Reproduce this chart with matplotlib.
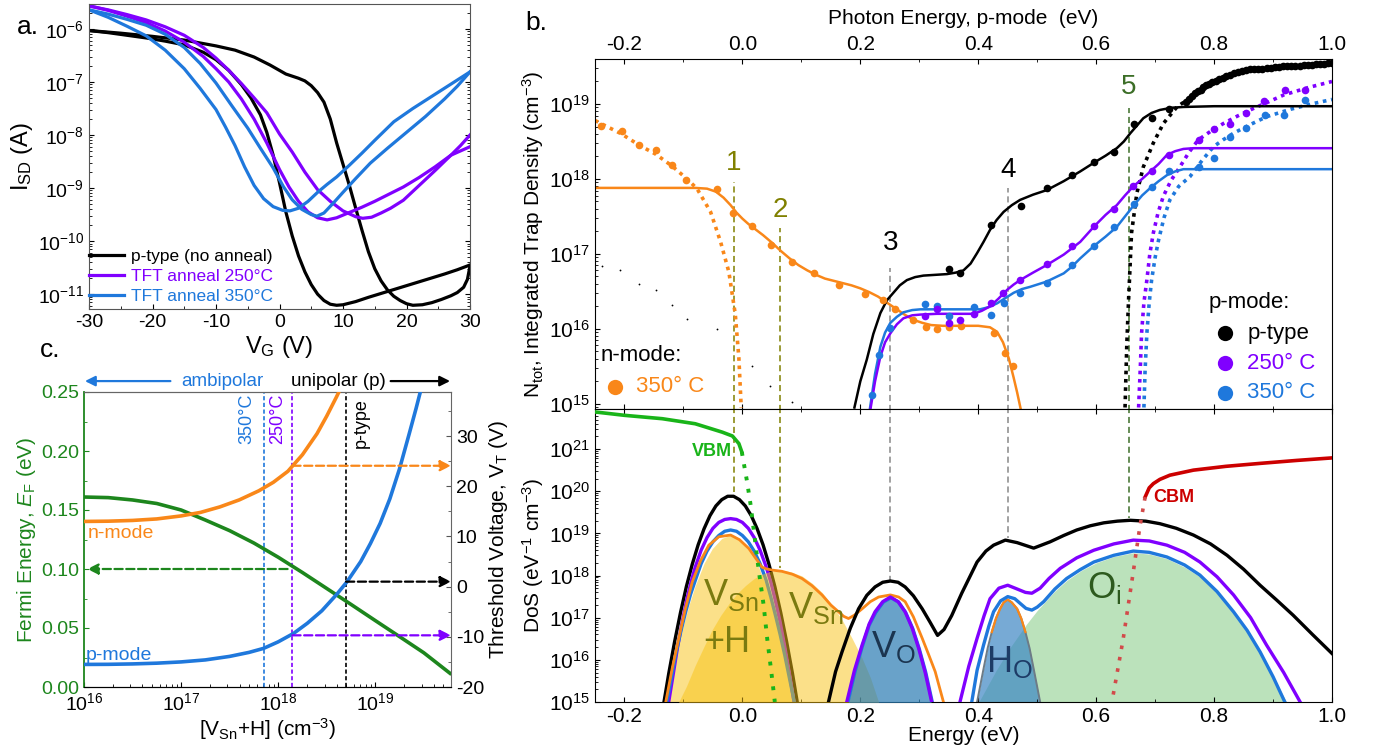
import numpy as np
import matplotlib
matplotlib.use("Agg")
import matplotlib.pyplot as plt
from matplotlib.ticker import MultipleLocator, LogLocator, NullFormatter, FormatStrFormatter

plt.rcParams["font.family"] = ["Liberation Sans", "DejaVu Sans"]
plt.rcParams["mathtext.fontset"] = "custom"
plt.rcParams["mathtext.rm"] = "Liberation Sans"
plt.rcParams["mathtext.it"] = "Liberation Sans:italic"
plt.rcParams["mathtext.bf"] = "Liberation Sans:bold"
plt.rcParams["mathtext.default"] = "regular"
plt.rcParams["axes.unicode_minus"] = False

BLACK = "black"
PURPLE = "#8000ff"
BLUE = "#1f78dc"
ORANGE = "#f98719"
GREEN_EF = "#1d861d"
VBM_GREEN = "#19b419"
CBM_RED = "#cc0000"
OLIVE = "#808000"
DKGREEN = "#3c6e27"

# ------------------------------------------------------------------
# a. transfer curves  (gate voltage, log10 I_SD)
# ------------------------------------------------------------------
vg_black_fwd = [-30, -27, -24, -21, -18, -15, -12, -10, -8, -6, -4.5, -3, -2, -1, 0, 1, 2, 3, 4, 5, 6, 7, 8, 9,
                10, 12, 14, 17, 20, 23, 26, 28, 30]
lg_black_fwd = [-6.03, -6.07, -6.12, -6.17, -6.23, -6.30, -6.44, -6.58, -6.78, -7.05, -7.30, -7.62, -7.95,
                -8.38, -8.9, -9.45, -9.9, -10.28, -10.58, -10.82, -11.0, -11.12, -11.19, -11.21, -11.2, -11.14,
                -11.06, -10.95, -10.84, -10.73, -10.62, -10.54, -10.45]
vg_black_rev = [-30, -25, -20, -15, -10, -7, -4, -1.5, 1, 3, 4, 5, 6, 7, 8, 9, 10, 11, 12, 13, 14, 15, 16, 17,
                18, 19, 20, 21, 22.5, 24, 25.5, 27, 28, 29, 29.6, 30]
lg_black_rev = [-6.03, -6.08, -6.14, -6.21, -6.32, -6.40, -6.53, -6.68, -6.85, -6.93, -6.98, -7.07, -7.2, -7.38,
                -7.7, -8.15, -8.55, -8.95, -9.38, -9.8, -10.2, -10.52, -10.75, -10.92, -11.04, -11.12, -11.18,
                -11.21, -11.2, -11.16, -11.1, -11.03, -10.97, -10.87, -10.72, -10.47]
vg_250_fwd = [-30, -27, -24, -21, -18, -15, -12, -10, -8, -6, -4, -2, 0, 1.5, 3, 4.5, 6, 7.5, 9, 11, 13, 15, 17,
              19.5, 22, 24.5, 27, 28.5, 30]
lg_250_fwd = [-5.56, -5.65, -5.76, -5.88, -6.04, -6.25, -6.52, -6.75, -7.0, -7.32, -7.7, -8.15, -8.65, -8.98,
              -9.25, -9.45, -9.56, -9.6, -9.56, -9.46, -9.36, -9.25, -9.13, -8.98, -8.8, -8.6, -8.38, -8.3, -8.22]
vg_250_rev = [-30, -27, -24, -21, -18, -15, -12, -10, -8, -6, -4, -2, 0, 2, 4, 6, 8, 10, 12, 13.1, 14.5, 16,
              17.5, 19.5, 22, 24.5, 27, 28.5, 30]
lg_250_rev = [-5.57, -5.64, -5.73, -5.83, -5.96, -6.12, -6.35, -6.55, -6.78, -7.03, -7.3, -7.58, -7.98, -8.32,
              -8.7, -9.03, -9.25, -9.43, -9.54, -9.57, -9.55, -9.47, -9.38, -9.23, -8.95, -8.67, -8.38, -8.2, -8.0]
vg_350_fwd = [-30, -27, -24, -21, -18, -15, -12.5, -10, -8.5, -7, -5.5, -4, -2.5, -1, 0.5, 1.65, 3, 4.5, 6, 7.5,
              9, 11, 13, 15, 18, 21, 24, 27, 30]
lg_350_fwd = [-5.64, -5.78, -5.95, -6.13, -6.4, -6.75, -7.12, -7.52, -7.85, -8.2, -8.6, -8.95, -9.2, -9.35,
              -9.42, -9.43, -9.38, -9.25, -9.08, -8.93, -8.79, -8.57, -8.34, -8.1, -7.75, -7.5, -7.27, -7.04, -6.81]
vg_350_rev = [-30, -27, -24, -21, -18, -15, -12.5, -10, -7.5, -5, -3, -1, 0.6, 2, 3.5, 5, 5.9, 7, 8.5, 10, 12,
              14.3, 17, 20, 23, 26, 28, 30]
lg_350_rev = [-5.64, -5.72, -5.82, -5.93, -6.1, -6.35, -6.65, -7.02, -7.45, -7.87, -8.25, -8.62, -8.97, -9.22,
              -9.4, -9.5, -9.53, -9.47, -9.28, -9.08, -8.82, -8.53, -8.25, -7.95, -7.65, -7.32, -7.08, -6.81]
legend_a = ["p-type (no anneal)", "TFT anneal 250°C", "TFT anneal 350°C"]

# ------------------------------------------------------------------
# c. Fermi energy / threshold voltage vs [VSn+H]  (log10 N)
# ------------------------------------------------------------------
lg_n_ef = [16, 16.25, 16.5, 16.75, 17, 17.25, 17.5, 17.75, 18, 18.25, 18.5, 18.75, 19, 19.25, 19.5, 19.77]
ef_ev = [0.161, 0.1605, 0.1585, 0.1555, 0.150, 0.1415, 0.1325, 0.122, 0.110, 0.097, 0.0835, 0.0700, 0.0563,
         0.0427, 0.029, 0.0116]
lg_n_vt_n = [16, 16.25, 16.5, 16.75, 17, 17.2, 17.4, 17.6, 17.8, 17.95, 18.1, 18.25, 18.4, 18.5, 18.6, 18.65]
vt_nmode = [13.0, 13.05, 13.2, 13.5, 14.1, 14.8, 15.9, 17.3, 19.1, 20.8, 23.0, 26.3, 30.5, 34.0, 37.8, 39.8]
lg_n_vt_p = [16, 16.25, 16.5, 16.75, 17, 17.25, 17.5, 17.7, 17.85, 18.0, 18.16, 18.3, 18.45, 18.6, 18.71,
             18.85, 18.95, 19.05, 19.15, 19.25, 19.35, 19.42, 19.48]
vt_pmode = [-15.5, -15.48, -15.4, -15.25, -15.0, -14.6, -13.9, -13.1, -12.3, -11.0, -9.3, -7.3, -4.8, -1.6, 1.0,
            5.0, 8.6, 12.6, 17.5, 23.5, 30.5, 35.5, 40.0]
n_350 = 7.2e17
n_250 = 1.4e18
n_ptype = 5.0e18
ef_250 = 0.100
vt_n_250 = 24.1
vt_p_250 = -9.7
vt_ptype = 1.0

# ------------------------------------------------------------------
# b. (top) integrated trap density  (energy eV, log10 N)
# ------------------------------------------------------------------
e_pts_n350 = [-0.239, -0.205, -0.175, -0.147, -0.119, -0.095, -0.043, -0.016, 0.016, 0.049, 0.084, 0.122, 0.164,
              0.208, 0.238, 0.258, 0.289, 0.311, 0.330, 0.350, 0.371, 0.426, 0.446, 0.459]
lg_pts_n350 = [18.71, 18.64, 18.45, 18.38, 18.18, 17.99, 17.86, 17.55, 17.37, 17.12, 16.89, 16.74, 16.58, 16.47,
               16.38, 16.27, 16.12, 16.02, 16.0, 16.02, 16.04, 15.94, 15.68, 15.51]
e_pts_ptype = [0.350, 0.369, 0.422, 0.472, 0.516, 0.559, 0.597, 0.631, 0.665, 0.695, 0.724]
lg_pts_ptype = [16.80, 16.74, 17.39, 17.64, 17.88, 18.05, 18.22, 18.36, 18.73, 18.81, 18.93]
e_pts_ptype_hi = [0.752, 0.757, 0.762, 0.767, 0.772, 0.777, 0.782, 0.787, 0.792, 0.797, 0.803, 0.809, 0.815,
                  0.821, 0.827, 0.833, 0.840, 0.847, 0.854, 0.861, 0.868, 0.875, 0.882, 0.889, 0.896, 0.903,
                  0.910, 0.917, 0.924, 0.931, 0.938, 0.945, 0.952, 0.959, 0.966, 0.973, 0.980, 0.987, 0.994, 1.0]
lg_pts_ptype_hi = [19.03, 19.07, 19.11, 19.14, 19.17, 19.19, 19.22, 19.25, 19.27, 19.29, 19.31, 19.33, 19.35,
                   19.37, 19.39, 19.41, 19.43, 19.44, 19.45, 19.46, 19.46, 19.47, 19.47, 19.48, 19.48, 19.49,
                   19.49, 19.50, 19.50, 19.50, 19.51, 19.51, 19.52, 19.52, 19.52, 19.53, 19.53, 19.53, 19.54, 19.54]
e_pts_p250 = [0.310, 0.330, 0.350, 0.369, 0.392, 0.422, 0.442, 0.471, 0.516, 0.559, 0.597, 0.631, 0.663, 0.694,
              0.724, 0.775, 0.800, 0.827, 0.854, 0.884, 0.920, 0.954]
lg_pts_p250 = [16.17, 16.26, 16.08, 16.12, 16.20, 16.34, 16.48, 16.65, 16.86, 17.11, 17.37, 17.60, 17.91, 18.11,
               18.32, 18.52, 18.66, 18.73, 18.88, 19.04, 19.18, 19.19]
e_pts_p350 = [0.219, 0.232, 0.251, 0.310, 0.330, 0.350, 0.392, 0.421, 0.443, 0.471, 0.516, 0.559, 0.597, 0.631,
              0.665, 0.695, 0.724, 0.775, 0.800, 0.827, 0.854, 0.886, 0.918, 0.954]
lg_pts_p350 = [15.12, 15.65, 16.01, 16.33, 16.31, 16.17, 16.29, 16.19, 16.35, 16.48, 16.61, 16.85, 17.11, 17.36,
               17.66, 17.89, 18.10, 18.16, 18.28, 18.56, 18.68, 18.85, 18.85, 19.05]
e_pts_small = [-0.238, -0.207, -0.176, -0.146, -0.119, -0.094, -0.043, 0.016, 0.047, 0.084]
lg_pts_small = [16.84, 16.79, 16.60, 16.52, 16.32, 16.13, 16.0, 15.51, 15.24, 15.02]

e_fit_n350 = [-0.25, -0.15, -0.08, -0.06, -0.045, -0.032, -0.02, -0.01, 0.0, 0.01, 0.02, 0.035, 0.05, 0.065,
              0.08, 0.095, 0.11, 0.125, 0.14, 0.155, 0.17, 0.185, 0.20, 0.215, 0.23, 0.245, 0.26, 0.275, 0.29,
              0.305, 0.32, 0.34, 0.37, 0.40, 0.42, 0.432, 0.442, 0.452, 0.46, 0.466, 0.472]
lg_fit_n350 = [17.88, 17.88, 17.88, 17.87, 17.83, 17.75, 17.65, 17.55, 17.47, 17.40, 17.34, 17.25, 17.15, 17.04,
               16.94, 16.85, 16.78, 16.72, 16.67, 16.64, 16.61, 16.58, 16.54, 16.49, 16.43, 16.35, 16.27, 16.19,
               16.12, 16.08, 16.05, 16.04, 16.04, 16.04, 16.02, 15.96, 15.82, 15.6, 15.35, 15.15, 14.93]
e_dot_n350 = [-0.25, -0.23, -0.205, -0.175, -0.147, -0.119, -0.094, -0.077, -0.054, -0.037, -0.023, -0.012,
              -0.006, -0.002]
lg_dot_n350 = [18.78, 18.70, 18.60, 18.45, 18.33, 18.17, 18.0, 17.87, 17.56, 17.16, 16.76, 16.19, 15.61, 14.95]
e_fit_ptype = [0.19, 0.20, 0.211, 0.222, 0.234, 0.245, 0.256, 0.267, 0.279, 0.293, 0.307, 0.327, 0.347, 0.362,
               0.375, 0.387, 0.398, 0.409, 0.420, 0.431, 0.443, 0.457, 0.471, 0.493, 0.516, 0.545, 0.573, 0.597,
               0.616, 0.635, 0.647, 0.658, 0.669, 0.680, 0.694, 0.708, 0.728, 0.748, 0.80, 0.9, 1.0]
lg_fit_ptype = [14.95, 15.3, 15.59, 15.93, 16.21, 16.38, 16.48, 16.58, 16.65, 16.69, 16.71, 16.72, 16.73, 16.75,
                16.78, 16.87, 17.01, 17.16, 17.32, 17.45, 17.56, 17.65, 17.72, 17.79, 17.85, 17.97, 18.10, 18.22,
                18.31, 18.41, 18.50, 18.61, 18.71, 18.81, 18.88, 18.92, 18.95, 18.96, 18.97, 18.97, 18.97]
e_dot_ptype = [0.649, 0.652, 0.655, 0.660, 0.669, 0.680, 0.697, 0.714, 0.737, 0.759]
lg_dot_ptype = [14.95, 15.8, 16.39, 17.28, 17.81, 18.16, 18.48, 18.74, 18.96, 19.08]
e_fit_p250 = [0.217, 0.225, 0.234, 0.242, 0.251, 0.262, 0.273, 0.288, 0.302, 0.33, 0.36, 0.392, 0.406, 0.420,
              0.434, 0.449, 0.46, 0.471, 0.493, 0.516, 0.545, 0.573, 0.597, 0.616, 0.635, 0.649, 0.663, 0.678,
              0.692, 0.706, 0.720, 0.734, 0.748, 0.765, 0.782, 0.85, 1.0]
lg_fit_p250 = [14.92, 15.3, 15.63, 15.82, 15.94, 16.06, 16.14, 16.18, 16.19, 16.2, 16.2, 16.2, 16.24, 16.30,
               16.40, 16.52, 16.59, 16.65, 16.75, 16.85, 16.99, 17.16, 17.37, 17.52, 17.65, 17.78, 17.90, 18.0,
               18.10, 18.2, 18.32, 18.37, 18.40, 18.41, 18.41, 18.41, 18.41]
e_fit_p350 = [0.216, 0.225, 0.234, 0.242, 0.251, 0.262, 0.273, 0.288, 0.302, 0.35, 0.403, 0.418, 0.432, 0.446,
              0.460, 0.474, 0.488, 0.516, 0.545, 0.559, 0.573, 0.597, 0.616, 0.635, 0.650, 0.665, 0.678, 0.692,
              0.706, 0.720, 0.734, 0.748, 0.78, 0.85, 1.0]
lg_fit_p350 = [14.92, 15.4, 15.76, 15.95, 16.08, 16.16, 16.22, 16.25, 16.26, 16.26, 16.26, 16.29, 16.34, 16.41,
               16.48, 16.53, 16.56, 16.63, 16.74, 16.83, 16.94, 17.11, 17.23, 17.36, 17.51, 17.66, 17.78, 17.88,
               17.97, 18.05, 18.10, 18.13, 18.13, 18.13, 18.13]
e_dot_p250 = [0.672, 0.675, 0.677, 0.681, 0.686, 0.691, 0.697, 0.705, 0.714, 0.727, 0.742, 0.757, 0.773, 0.795,
              0.816, 0.84, 0.861, 0.89, 0.918, 0.96, 1.0]
lg_dot_p250 = [14.95, 15.5, 15.94, 16.35, 16.65, 17.0, 17.28, 17.55, 17.77, 17.98, 18.16, 18.35, 18.52, 18.64,
               18.74, 18.84, 18.92, 19.02, 19.12, 19.22, 19.30]
e_dot_p350 = [0.681, 0.683, 0.686, 0.690, 0.694, 0.700, 0.706, 0.715, 0.725, 0.740, 0.759, 0.78, 0.799, 0.815,
              0.833, 0.86, 0.889, 0.93, 0.965, 1.0]
lg_dot_p350 = [14.95, 15.45, 15.94, 16.35, 16.65, 16.95, 17.19, 17.48, 17.72, 17.9, 18.03, 18.25, 18.43, 18.52,
               18.61, 18.72, 18.83, 18.93, 19.0, 19.06]

# marker lines: energy, label, top of line (top panel), bottom of line (DoS panel)
peak_e = [-0.015, 0.064, 0.251, 0.450, 0.655]
peak_label = ["1", "2", "3", "4", "5"]
peak_lg_top = [17.96, 17.35, 16.81, 17.88, 18.95]
peak_lg_label = [18.21, 17.59, 17.14, 18.12, 19.22]
peak_lg_dos = [19.98, 18.18, 17.89, 18.89, 19.36]

# ------------------------------------------------------------------
# b. (bottom) density of states  (energy eV, log10 DoS)
# ------------------------------------------------------------------
e_vbm = [-0.25, -0.20, -0.136, -0.08, -0.034, -0.017, -0.006, -0.001]
lg_vbm = [21.88, 21.80, 21.72, 21.60, 21.40, 21.31, 21.13, 20.93]
e_vbm_tail = [-0.001, 0.008, 0.014, 0.021, 0.028, 0.036, 0.042, 0.049, 0.055]
lg_vbm_tail = [20.93, 20.22, 19.67, 18.88, 18.09, 17.30, 16.51, 15.72, 15.0]
e_cbm = [0.683, 0.690, 0.697, 0.708, 0.725, 0.765, 0.82, 0.878, 0.94, 1.0]
lg_cbm = [19.86, 20.08, 20.18, 20.28, 20.38, 20.50, 20.59, 20.66, 20.73, 20.79]
e_cbm_tail = [0.683, 0.674, 0.663, 0.655, 0.646, 0.637, 0.628]
lg_cbm_tail = [19.86, 19.15, 18.09, 17.35, 16.51, 15.8, 15.1]

e_dos_ptype_1 = [-0.133, -0.125, -0.115, -0.105, -0.095, -0.085, -0.075, -0.065, -0.055, -0.045, -0.035, -0.025,
                 -0.015, -0.005, 0.005, 0.015, 0.025, 0.035, 0.045, 0.055, 0.065, 0.075, 0.085, 0.093]
lg_dos_ptype_1 = [15.0, 15.67, 16.43, 17.12, 17.74, 18.27, 18.73, 19.11, 19.42, 19.65, 19.80, 19.88, 19.88,
                  19.80, 19.65, 19.42, 19.11, 18.73, 18.27, 17.74, 17.12, 16.43, 15.67, 15.0]
e_dos_ptype_2 = [0.146, 0.158, 0.169, 0.183, 0.197, 0.211, 0.225, 0.238, 0.251, 0.264, 0.276, 0.290, 0.305,
                 0.318, 0.331, 0.342, 0.355, 0.372, 0.398, 0.413, 0.426, 0.446, 0.466, 0.494, 0.522, 0.545, 0.567,
                 0.59, 0.613, 0.636, 0.658, 0.684, 0.708, 0.736, 0.765, 0.794, 0.822, 0.85, 0.878, 0.906, 0.934,
                 0.967, 1.0]
lg_dos_ptype_2 = [15.0, 15.72, 16.19, 16.75, 17.21, 17.53, 17.73, 17.84, 17.87, 17.84, 17.73, 17.52, 17.21,
                  16.9, 16.58, 16.72, 17.05, 17.58, 18.32, 18.58, 18.72, 18.84, 18.78, 18.65, 18.80, 18.95,
                  19.08, 19.18, 19.25, 19.29, 19.31, 19.29, 19.23, 19.12, 18.96, 18.75, 18.48, 18.15, 17.77,
                  17.42, 17.06, 16.6, 16.15]
e_dos_p250_1 = [-0.125, -0.118, -0.110, -0.102, -0.094, -0.087, -0.080, -0.070, -0.060, -0.050, -0.040, -0.030,
                -0.020, -0.010, 0.000, 0.010, 0.020, 0.030, 0.040, 0.048, 0.056, 0.064, 0.072, 0.080, 0.087,
                0.089]
lg_dos_p250_1 = [15.0, 15.6, 16.3, 16.9, 17.45, 17.85, 18.2, 18.6, 18.9, 19.12, 19.26, 19.33, 19.35, 19.33,
                 19.26, 19.12, 18.9, 18.6, 18.22, 17.85, 17.4, 16.9, 16.3, 15.65, 15.05, 14.9]
e_dos_p250_2 = [0.177, 0.190, 0.203, 0.215, 0.225, 0.238, 0.251, 0.264, 0.276, 0.288, 0.299, 0.310, 0.321]
lg_dos_p250_2 = [15.0, 15.75, 16.35, 16.85, 17.14, 17.38, 17.49, 17.38, 17.14, 16.75, 16.27, 15.7, 15.0]
e_dos_p250_3 = [0.369, 0.384, 0.398, 0.410, 0.420, 0.435, 0.450, 0.466, 0.480, 0.491, 0.505, 0.520, 0.539,
                0.567, 0.596, 0.630, 0.663, 0.690, 0.720, 0.750, 0.776, 0.805, 0.833, 0.862, 0.889, 0.918, 0.946]
lg_dos_p250_3 = [15.0, 15.85, 16.51, 17.05, 17.45, 17.70, 17.77, 17.68, 17.60, 17.58, 17.70, 17.93, 18.17,
                 18.42, 18.60, 18.75, 18.84, 18.82, 18.72, 18.55, 18.32, 17.97, 17.54, 17.0, 16.35, 15.7, 15.0]
e_dos_p350_1 = [-0.128, -0.120, -0.112, -0.104, -0.096, -0.088, -0.080, -0.070, -0.060, -0.050, -0.040, -0.030,
                -0.020, -0.010, 0.000, 0.010, 0.020, 0.030, 0.040, 0.048, 0.056, 0.064, 0.072, 0.080, 0.088]
lg_dos_p350_1 = [15.0, 15.6, 16.2, 16.7, 17.15, 17.55, 17.88, 18.28, 18.58, 18.8, 18.95, 19.05, 19.08, 19.05,
                 18.95, 18.8, 18.58, 18.28, 17.9, 17.5, 17.06, 16.6, 16.1, 15.55, 15.0]
e_dos_p350_2 = [0.179, 0.191, 0.203, 0.215, 0.226, 0.239, 0.252, 0.265, 0.277, 0.289, 0.300, 0.311, 0.322]
lg_dos_p350_2 = [15.0, 15.72, 16.3, 16.82, 17.12, 17.37, 17.47, 17.37, 17.12, 16.74, 16.26, 15.7, 15.0]
e_dos_p350_3 = [0.389, 0.398, 0.409, 0.418, 0.426, 0.438, 0.450, 0.462, 0.471, 0.481, 0.491, 0.500, 0.511,
                0.530, 0.550, 0.573, 0.596, 0.630, 0.663, 0.690, 0.720, 0.750, 0.776, 0.805, 0.833, 0.856, 0.878,
                0.900, 0.920]
lg_dos_p350_3 = [15.0, 15.75, 16.35, 16.8, 17.14, 17.40, 17.50, 17.45, 17.34, 17.22, 17.18, 17.25, 17.38, 17.68,
                 17.93, 18.14, 18.32, 18.48, 18.58, 18.55, 18.44, 18.25, 18.01, 17.62, 17.14, 16.7, 16.19, 15.6,
                 15.0]
e_dos_n350 = [-0.130, -0.119, -0.108, -0.097, -0.085, -0.071, -0.057, -0.040, -0.020, -0.005, 0.011, 0.022,
              0.033, 0.040, 0.050, 0.067, 0.085, 0.101, 0.118, 0.135, 0.150, 0.163, 0.172, 0.180, 0.190, 0.203,
              0.217, 0.231, 0.251, 0.265, 0.276, 0.290, 0.305, 0.316, 0.327, 0.341]
lg_dos_n350 = [15.0, 15.8, 16.51, 17.2, 17.85, 18.35, 18.72, 18.92, 18.96, 18.85, 18.64, 18.42, 18.2, 18.16,
               18.13, 18.10, 18.03, 17.93, 17.76, 17.54, 17.3, 17.14, 17.03, 16.98, 17.06, 17.21, 17.38, 17.49,
               17.54, 17.49, 17.38, 17.02, 16.51, 16.12, 15.72, 15.0]

# defect components
e_vsnh = [-0.128, -0.115, -0.102, -0.091, -0.080, -0.065, -0.051, -0.035, -0.020, -0.005, 0.011, 0.025, 0.040,
          0.051, 0.062, 0.075, 0.090]
lg_vsnh = [15.0, 15.96, 16.72, 17.28, 17.76, 18.29, 18.64, 18.88, 18.96, 18.88, 18.64, 18.29, 17.76, 17.28,
           16.72, 15.96, 15.0]
e_vsn = [-0.108, -0.095, -0.080, -0.065, -0.051, -0.037, -0.023, -0.009, 0.005, 0.019, 0.033, 0.048, 0.064,
         0.082, 0.101, 0.118, 0.135, 0.152, 0.169, 0.186, 0.203, 0.217, 0.231]
lg_vsn = [15.0, 15.37, 15.87, 16.32, 16.72, 17.05, 17.33, 17.57, 17.76, 17.92, 18.03, 18.10, 18.13, 18.09,
          17.99, 17.82, 17.60, 17.30, 16.95, 16.51, 16.04, 15.58, 15.0]
e_vo = [0.180, 0.192, 0.203, 0.214, 0.225, 0.238, 0.251, 0.264, 0.276, 0.288, 0.299, 0.310, 0.320]
lg_vo = [15.0, 15.75, 16.27, 16.75, 17.10, 17.35, 17.45, 17.35, 17.10, 16.7, 16.27, 15.7, 15.0]
e_ho = [0.398, 0.409, 0.416, 0.423, 0.430, 0.437, 0.443, 0.450, 0.457, 0.466, 0.473, 0.480, 0.487, 0.494, 0.505]
lg_ho = [15.0, 15.79, 16.28, 16.66, 16.98, 17.21, 17.36, 17.43, 17.36, 17.21, 16.98, 16.66, 16.28, 15.79, 15.0]
e_oi = [0.401, 0.43, 0.455, 0.482, 0.50, 0.53, 0.55, 0.575, 0.60, 0.63, 0.663, 0.69, 0.72, 0.75, 0.776, 0.805,
        0.833, 0.856, 0.878, 0.90, 0.923]
lg_oi = [15.0, 15.74, 16.31, 16.85, 17.17, 17.63, 17.88, 18.12, 18.30, 18.45, 18.54, 18.51, 18.40, 18.20,
         17.97, 17.58, 17.10, 16.65, 16.15, 15.6, 15.0]


def pw(values):
    return 10.0 ** np.asarray(values, dtype=float)


W, H = 1385, 756
fig = plt.figure(figsize=(W / 100, H / 100), dpi=100)


def box(left, top, right, bottom):
    return [left / W, 1 - bottom / H, (right - left) / W, (bottom - top) / H]


def log_axis(axis):
    axis.set_major_locator(LogLocator(base=10, numticks=20))
    axis.set_minor_locator(LogLocator(base=10, subs=np.arange(2, 10), numticks=20))
    axis.set_minor_formatter(NullFormatter())


# ------------------------------------------------------------------
# Panel a
# ------------------------------------------------------------------
ax_a = fig.add_axes(box(89, 4, 470, 309))
h1, = ax_a.plot(vg_black_fwd, pw(lg_black_fwd), color=BLACK, lw=2.3)
ax_a.plot(vg_black_rev, pw(lg_black_rev), color=BLACK, lw=2.3)
h2, = ax_a.plot(vg_250_fwd, pw(lg_250_fwd), color=PURPLE, lw=2.3)
ax_a.plot(vg_250_rev, pw(lg_250_rev), color=PURPLE, lw=2.3)
h3, = ax_a.plot(vg_350_fwd, pw(lg_350_fwd), color=BLUE, lw=2.3)
ax_a.plot(vg_350_rev, pw(lg_350_rev), color=BLUE, lw=2.3)
ax_a.set_yscale("log")
ax_a.set_xlim(-30, 30)
ax_a.set_ylim(10 ** -11.28, 10 ** -5.53)
ax_a.xaxis.set_major_locator(MultipleLocator(10))
ax_a.xaxis.set_minor_locator(MultipleLocator(5))
log_axis(ax_a.yaxis)
ax_a.tick_params(which="both", direction="in", right=True, labelsize=14)
ax_a.set_xlabel("V$_G$ (V)", fontsize=17, labelpad=2)
ax_a.set_ylabel("I$_{SD}$ (A)", fontsize=17, labelpad=2)
for s in ax_a.spines.values():
    s.set_color("#555555")
leg = ax_a.legend([h1, h2, h3], legend_a, loc="lower left", bbox_to_anchor=(0, 0.015), frameon=False,
                  fontsize=12.5, handlelength=2.0, handletextpad=0.4, labelspacing=0.3, borderaxespad=0,
                  borderpad=0)
for t, c in zip(leg.get_texts(), [BLACK, PURPLE, BLUE]):
    t.set_color(c)

# ------------------------------------------------------------------
# Panel c
# ------------------------------------------------------------------
ax_c = fig.add_axes(box(84, 392, 451, 687))
ax_c.set_xscale("log")
ax_c.set_xlim(1e16, 10 ** 19.78)
ax_c.set_ylim(0, 0.25)
ax_c.plot(pw(lg_n_ef), ef_ev, color=GREEN_EF, lw=2.6, zorder=3)
ax_c2 = ax_c.twinx()
ax_c2.set_ylim(-20, 38.8)
ax_c2.plot(pw(lg_n_vt_n), vt_nmode, color=ORANGE, lw=2.6, zorder=3)
ax_c2.plot(pw(lg_n_vt_p), vt_pmode, color=BLUE, lw=2.6, zorder=3)

for nx, col in [(n_350, BLUE), (n_250, PURPLE), (n_ptype, BLACK)]:
    ax_c.axvline(nx, color=col, lw=1.2, ls=(0, (2.5, 1.5)), zorder=2)
ax_c.text(4.8e17, 0.227, "350°C", rotation=90, color=BLUE, fontsize=13, ha="center", va="center")
ax_c.text(9.8e17, 0.227, "250°C", rotation=90, color=PURPLE, fontsize=13, ha="center", va="center")
ax_c.text(7.2e18, 0.224, "p-type", rotation=90, color=BLACK, fontsize=13, ha="center", va="center")
ax_c.text(1.1e16, 0.1305, "n-mode", color=ORANGE, fontsize=14, ha="left", va="center")
ax_c.text(1.05e16, 0.027, "p-mode", color=BLUE, fontsize=14, ha="left", va="center")

arrow_kw = dict(arrowstyle="-|>", lw=1.6, ls="--", mutation_scale=16, shrinkA=0, shrinkB=0)
ax_c.annotate("", xy=(1.08e16, ef_250), xytext=(1.25e18, ef_250),
              arrowprops=dict(color=GREEN_EF, **arrow_kw))
ax_c2.annotate("", xy=(10 ** 19.78, vt_n_250), xytext=(n_250, vt_n_250),
               arrowprops=dict(color=ORANGE, **arrow_kw))
ax_c2.annotate("", xy=(10 ** 19.78, vt_ptype), xytext=(n_ptype, vt_ptype),
               arrowprops=dict(color=BLACK, **arrow_kw))
ax_c2.annotate("", xy=(10 ** 19.78, vt_p_250), xytext=(n_250, vt_p_250),
               arrowprops=dict(color=PURPLE, **arrow_kw))

ax_c.annotate("", xy=(-0.005, 1.037), xytext=(0.243, 1.037), xycoords="axes fraction",
              arrowprops=dict(arrowstyle="-|>", color=BLUE, lw=1.6, mutation_scale=15), annotation_clip=False)
ax_c.annotate("", xy=(1.005, 1.037), xytext=(0.828, 1.037), xycoords="axes fraction",
              arrowprops=dict(arrowstyle="-|>", color=BLACK, lw=1.6, mutation_scale=15), annotation_clip=False)
ax_c.text(0.376, 1.037, "ambipolar", transform=ax_c.transAxes, color=BLUE, fontsize=13.5, ha="center",
          va="center")
ax_c.text(0.692, 1.037, "unipolar (p)", transform=ax_c.transAxes, color=BLACK, fontsize=13.5, ha="center",
          va="center")

log_axis(ax_c.xaxis)
ax_c.yaxis.set_major_locator(MultipleLocator(0.05))
ax_c.yaxis.set_minor_locator(MultipleLocator(0.025))
ax_c.yaxis.set_major_formatter(FormatStrFormatter("%.2f"))
ax_c.tick_params(which="both", direction="in", labelsize=14)
ax_c.tick_params(axis="y", which="both", colors=GREEN_EF)
ax_c2.yaxis.set_major_locator(MultipleLocator(10))
ax_c2.yaxis.set_minor_locator(MultipleLocator(5))
ax_c2.tick_params(which="both", direction="in", labelsize=14, color="#555555")
ax_c.spines["left"].set_color(GREEN_EF)
ax_c.spines["left"].set_linewidth(1.3)
ax_c2.spines["left"].set_visible(False)
ax_c2.spines["right"].set_color("#666666")
ax_c2.spines["top"].set_color("#666666")
ax_c.spines["top"].set_color("#666666")
ax_c.spines["right"].set_visible(False)
ax_c.set_xlabel("[V$_{Sn}$+H] (cm$^{-3}$)", fontsize=15, labelpad=2)
ax_c.set_ylabel("Fermi Energy, $\\mathit{E}_F$ (eV)", fontsize=15, color=GREEN_EF, labelpad=2)
ax_c2.set_ylabel("Threshold Voltage, V$_T$ (V)", fontsize=15, labelpad=2)

# ------------------------------------------------------------------
# Panel b top: integrated trap density
# ------------------------------------------------------------------
ax_bt = fig.add_axes(box(595, 59, 1332, 409))
ax_bb = fig.add_axes(box(595, 409, 1332, 702))
for ax in (ax_bt, ax_bb):
    ax.set_yscale("log")
    ax.set_xlim(-0.25, 1.0)
    ax.xaxis.set_major_locator(MultipleLocator(0.2))
    ax.xaxis.set_minor_locator(MultipleLocator(0.1))
    ax.xaxis.set_major_formatter(FormatStrFormatter("%.1f"))
    log_axis(ax.yaxis)
    ax.tick_params(which="both", direction="in", labelsize=15, top=True, bottom=True)
ax_bt.set_ylim(10 ** 14.93, 10 ** 19.6)
ax_bb.set_ylim(1e15, 10 ** 21.95)
ax_bt.tick_params(axis="x", labeltop=True, labelbottom=False)
ax_bt.xaxis.set_label_position("top")
ax_bt.set_xlabel("Photon Energy, p-mode  (eV)", fontsize=15, labelpad=8)
ax_bt.set_ylabel("N$_{tot}$, Integrated Trap Density (cm$^{-3}$)", fontsize=15, labelpad=2)
ax_bb.set_xlabel("Energy (eV)", fontsize=15, labelpad=0)
ax_bb.set_ylabel("DoS (eV$^{-1}$ cm$^{-3}$)", fontsize=15, labelpad=2)

line_cols = [OLIVE, OLIVE, "#888888", "#888888", DKGREEN]
text_cols = [OLIVE, OLIVE, BLACK, BLACK, DKGREEN]
for e, lab, top, lbl, dos, lc, tc in zip(peak_e, peak_label, peak_lg_top, peak_lg_label, peak_lg_dos,
                                         line_cols, text_cols):
    ax_bt.plot([e, e], [10 ** 14.9, 10 ** top], color=lc, lw=1.1, ls=(0, (4, 2.5)), zorder=1)
    ax_bt.text(e, 10 ** lbl, lab, color=tc, fontsize=20, ha="center", va="center")
    ax_bb.plot([e, e], [10 ** 22.0, 10 ** dos], color=lc, lw=1.1, ls=(0, (4, 2.5)), zorder=0.5)

dotted = (0, (1, 1.3))
ax_bt.plot(e_dot_n350, pw(lg_dot_n350), color=ORANGE, lw=2.6, ls=dotted, zorder=2)
ax_bt.plot(e_dot_ptype, pw(lg_dot_ptype), color=BLACK, lw=2.6, ls=dotted, zorder=2)
ax_bt.plot(e_dot_p250, pw(lg_dot_p250), color=PURPLE, lw=2.6, ls=dotted, zorder=2)
ax_bt.plot(e_dot_p350, pw(lg_dot_p350), color=BLUE, lw=2.6, ls=dotted, zorder=2)
ax_bt.plot(e_fit_n350, pw(lg_fit_n350), color=ORANGE, lw=1.8, zorder=2)
ax_bt.plot(e_fit_ptype, pw(lg_fit_ptype), color=BLACK, lw=1.8, zorder=2)
ax_bt.plot(e_fit_p350, pw(lg_fit_p350), color=BLUE, lw=1.8, zorder=2)
ax_bt.plot(e_fit_p250, pw(lg_fit_p250), color=PURPLE, lw=1.8, zorder=2)

ms = 5.5
ax_bt.plot(e_pts_n350, pw(lg_pts_n350), "o", color=ORANGE, ms=ms, mew=0, zorder=3)
ax_bt.plot(e_pts_ptype, pw(lg_pts_ptype), "o", color=BLACK, ms=ms, mew=0, zorder=3)
ax_bt.plot(e_pts_ptype_hi, pw(lg_pts_ptype_hi), "o", color=BLACK, ms=ms, mew=0, zorder=3)
ax_bt.plot(e_pts_p350, pw(lg_pts_p350), "o", color=BLUE, ms=ms, mew=0, zorder=3)
ax_bt.plot(e_pts_p250, pw(lg_pts_p250), "o", color=PURPLE, ms=ms, mew=0, zorder=3)
ax_bt.plot(e_pts_small, pw(lg_pts_small), "o", color=BLACK, ms=1.3, mew=0, zorder=3)

tr = ax_bt.transAxes
ax_bt.text(0.007, 0.154, "n-mode:", transform=tr, fontsize=16, ha="left", va="center")
ax_bt.plot([0.027], [0.063], "o", color=ORANGE, ms=11, mew=0, transform=tr, clip_on=False)
ax_bt.text(0.056, 0.063, "350° C", transform=tr, fontsize=16, color=ORANGE, ha="left", va="center")
ax_bt.text(0.832, 0.303, "p-mode:", transform=tr, fontsize=16, ha="left", va="center")
for yy, col, lab in [(0.217, BLACK, "p-type"), (0.131, PURPLE, "250° C"), (0.046, BLUE, "350° C")]:
    ax_bt.plot([0.855], [yy], "o", color=col, ms=11, mew=0, transform=tr, clip_on=False)
    ax_bt.text(0.885, yy, lab, transform=tr, fontsize=16, color=col, ha="left", va="center")

# ------------------------------------------------------------------
# Panel b bottom: density of states
# ------------------------------------------------------------------
floor = 1e14
GOLD = "#f9c314"
ax_bb.fill_between(e_vsnh, floor, pw(lg_vsnh), color=GOLD, alpha=0.5, lw=0, zorder=1)
ax_bb.fill_between(e_oi, floor, pw(lg_oi), color="#6abf69", alpha=0.45, lw=0, zorder=1)
ax_bb.fill_between(e_ho, floor, pw(lg_ho), color="#3d87c4", alpha=0.7, lw=0, zorder=1.5)
ax_bb.plot(e_ho, pw(lg_ho), color="#6d7b86", lw=1.4, zorder=1.6)

left_peak = dict(lw=2.4, zorder=2)
ax_bb.plot(e_dos_ptype_1, pw(lg_dos_ptype_1), color=BLACK, **left_peak)
ax_bb.plot(e_dos_p250_1, pw(lg_dos_p250_1), color=PURPLE, **left_peak)
ax_bb.plot(e_dos_p350_1, pw(lg_dos_p350_1), color=BLUE, **left_peak)

ax_bb.fill_between(e_vsn, floor, pw(lg_vsn), color=GOLD, alpha=0.5, lw=0, zorder=3)
ax_bb.fill_between(e_vo, floor, pw(lg_vo), color="#2f7fb5", alpha=0.72, lw=0, zorder=3.2)

ax_bb.plot(e_dos_n350, pw(lg_dos_n350), color=ORANGE, lw=2.0, zorder=3.5)
ax_bb.plot(e_ho[3:-3], pw(lg_ho[3:-3]), color=ORANGE, lw=1.6, zorder=3.5)
ax_bb.plot(e_dos_ptype_2, pw(lg_dos_ptype_2), color=BLACK, lw=2.4, zorder=4)
ax_bb.plot(e_dos_p350_2, pw(lg_dos_p350_2), color=BLUE, lw=2.4, zorder=4)
ax_bb.plot(e_dos_p250_2, pw(lg_dos_p250_2), color=PURPLE, lw=2.4, zorder=4.1)
ax_bb.plot(e_dos_p250_3, pw(lg_dos_p250_3), color=PURPLE, lw=2.4, zorder=4.1)
ax_bb.plot(e_dos_p350_3, pw(lg_dos_p350_3), color=BLUE, lw=2.4, zorder=4)

ax_bb.plot(e_vbm, pw(lg_vbm), color=VBM_GREEN, lw=2.6, zorder=5)
ax_bb.plot(e_vbm_tail, pw(lg_vbm_tail), color=VBM_GREEN, lw=2.8, ls=(0, (1, 2.2)), zorder=5)
ax_bb.plot(e_cbm, pw(lg_cbm), color=CBM_RED, lw=2.6, zorder=5)
ax_bb.plot(e_cbm_tail, pw(lg_cbm_tail), color="#d24a4a", lw=2.6, ls=(0, (1, 2.2)), zorder=5)
ax_bb.text(-0.052, 10 ** 20.95, "VBM", color=VBM_GREEN, fontsize=13, fontweight="bold", ha="center",
           va="center", zorder=6)
ax_bb.text(0.732, 10 ** 19.86, "CBM", color=CBM_RED, fontsize=13, fontweight="bold", ha="center",
           va="center", zorder=6)

lab_kw = dict(fontsize=26, ha="center", va="baseline", zorder=6)
ax_bb.text(-0.019, 10 ** 17.30, "V$_{Sn}$", color="#7a7a10", **lab_kw)
ax_bb.text(-0.027, 10 ** 16.18, "+H", color="#7a7a10", **lab_kw)
ax_bb.text(0.124, 10 ** 16.99, "V$_{Sn}$", color="#7a7a10", **lab_kw)
ax_bb.text(0.256, 10 ** 16.07, "V$_O$", color="#1b3550", **lab_kw)
ax_bb.text(0.453, 10 ** 15.71, "H$_O$", color="#1d3b66", **lab_kw)
ax_bb.text(0.613, 10 ** 17.46, "O$_i$", color="#2d5a1e", **lab_kw)

fig.text(17 / W, 1 - 27 / H, "a.", fontsize=19, va="center")
fig.text(525 / W, 1 - 23 / H, "b.", fontsize=19, va="center")
fig.text(40 / W, 1 - 350 / H, "c.", fontsize=19, va="center")

fig.savefig("out.png", dpi=100)
